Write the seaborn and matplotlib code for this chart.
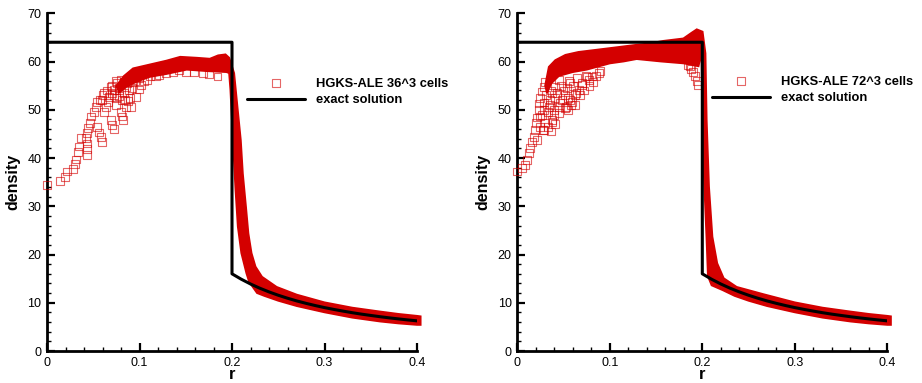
import matplotlib
matplotlib.use("Agg")
import matplotlib.pyplot as plt
import seaborn as sns
from matplotlib.ticker import MultipleLocator, FixedLocator, FixedFormatter

# ---------------- data ----------------
exact_r = [0.0, 0.2, 0.2, 0.21, 0.22, 0.23, 0.24, 0.25, 0.26, 0.27, 0.28, 0.29,
           0.30, 0.31, 0.32, 0.33, 0.34, 0.35, 0.36, 0.37, 0.38, 0.39, 0.40]
exact_rho = [64.0, 64.0, 16.0, 14.88, 13.89, 13.02, 12.25, 11.56, 10.94, 10.38, 9.88, 9.42,
             9.00, 8.62, 8.27, 7.94, 7.64, 7.37, 7.11, 6.87, 6.65, 6.44, 6.25]

# outline of the dense (solid) cloud of the 36^3 result
band36_r = [0.075, 0.083, 0.093, 0.111, 0.129, 0.144, 0.162, 0.176, 0.185, 0.193, 0.197,
            0.2024, 0.206, 0.2096, 0.2118, 0.2152, 0.2178, 0.2212, 0.2255, 0.2325, 0.2483, 0.27,
            0.30, 0.33, 0.36, 0.38, 0.40, 0.404,
            0.404, 0.40, 0.38, 0.36, 0.33, 0.30, 0.27, 0.25, 0.235, 0.227,
            0.2185, 0.2155, 0.2100, 0.2062, 0.2037, 0.2018, 0.2000, 0.1982, 0.1968,
            0.194, 0.173, 0.151, 0.129, 0.111, 0.097, 0.086, 0.078]
band36_rho = [55.0, 57.0, 58.6, 59.4, 60.2, 61.0, 60.8, 60.6, 61.3, 61.5, 60.8,
              57.6, 50.6, 43.7, 36.8, 29.9, 24.4, 20.3, 17.5, 15.4, 13.3, 11.7,
              10.1, 9.0, 8.2, 7.7, 7.3, 7.2,
              5.4, 5.4, 5.7, 6.1, 6.9, 8.0, 9.3, 10.4, 11.4, 12.0,
              14.3, 16.1, 20.3, 25.8, 33.4, 40.3, 47.2, 54.1, 57.6,
              57.8, 58.0, 58.3, 57.4, 56.8, 55.8, 54.8, 53.5]

# separate (hollow) squares of the 36^3 result
sq36_r = [0.0, 0.014, 0.019, 0.022, 0.0285, 0.030, 0.031, 0.0339, 0.0346, 0.0364,
          0.0429, 0.0429, 0.0429, 0.0418, 0.0429, 0.0447, 0.0465, 0.0472, 0.0508, 0.0526,
          0.0544, 0.0562, 0.058, 0.0591, 0.0544, 0.0616, 0.0634, 0.067, 0.0689, 0.0706,
          0.0724, 0.0724, 0.0743, 0.0797, 0.0814, 0.0814, 0.0832, 0.0886, 0.0905, 0.0922,
          0.0959, 0.1013, 0.1049, 0.1084, 0.1114, 0.0616, 0.0689, 0.076, 0.0797, 0.0598,
          0.0706, 0.0778, 0.0851, 0.0743, 0.0851, 0.0922, 0.0962, 0.0825, 0.0847,
          0.060, 0.065, 0.070, 0.072, 0.075, 0.078, 0.083, 0.087, 0.090, 0.095,
          0.100, 0.105, 0.057, 0.066, 0.088, 0.099,
          0.1178, 0.1214, 0.1286, 0.1358, 0.143, 0.1502, 0.1592, 0.1682, 0.1754, 0.1844]
sq36_rho = [34.4, 35.2, 36.1, 37.2, 37.7, 38.7, 39.7, 41.3, 42.4, 44.1,
            40.6, 41.8, 43.0, 44.1, 45.1, 46.2, 47.3, 48.6, 49.6, 50.6,
            51.7, 45.3, 44.3, 43.3, 46.5, 49.6, 50.6, 52.7, 47.9, 46.8,
            46.0, 54.1, 52.4, 49.6, 48.6, 52.0, 55.8, 54.1, 50.6, 55.8,
            57.2, 55.1, 57.6, 56.2, 56.9, 53.4, 54.8, 55.5, 56.2, 52.0,
            53.4, 54.1, 54.8, 51.0, 50.6, 54.5, 52.7, 47.9, 52.0,
            53.0, 54.0, 55.0, 53.0, 56.0, 52.8, 53.5, 55.5, 52.5, 56.0,
            56.5, 56.0, 52.0, 51.5, 51.8, 54.2,
            56.9, 57.2, 57.6, 57.9, 58.3, 57.9, 57.9, 57.6, 57.4, 56.9]

# outline of the dense cloud of the 72^3 result
band72_r = [0.030, 0.034, 0.041, 0.052, 0.066, 0.100, 0.125, 0.1435, 0.158, 0.1795, 0.1885, 0.194, 0.2004,
            0.2035, 0.2048, 0.2073, 0.2110, 0.2162, 0.2232, 0.2372, 0.266,
            0.30, 0.33, 0.36, 0.38, 0.40, 0.404,
            0.404, 0.40, 0.38, 0.36, 0.33, 0.30, 0.27, 0.25, 0.235, 0.222, 0.21,
            0.2060, 0.2044, 0.2014, 0.2000, 0.1990,
            0.196, 0.18, 0.155, 0.129, 0.115, 0.100, 0.075, 0.060, 0.045, 0.037, 0.032]
band72_rho = [55.0, 58.9, 60.3, 61.4, 62.0, 62.8, 63.4, 63.8, 64.3, 64.8, 66.0, 66.7, 66.2,
              61.7, 47.9, 34.1, 23.7, 18.2, 15.1, 13.3, 11.8,
              10.1, 9.0, 8.2, 7.7, 7.3, 7.2,
              5.4, 5.4, 5.7, 6.1, 6.9, 8.0, 9.3, 10.4, 11.4, 12.6, 13.6,
              15.5, 23.7, 37.5, 51.3, 61.7,
              59.0, 59.6, 60.0, 60.5, 60.0, 59.6, 58.3, 57.8, 57.0, 55.5, 53.5]

# separate (hollow) squares of the 72^3 result
sq72_r = [0.0, 0.005, 0.0087, 0.0105, 0.0123, 0.014, 0.0159, 0.0177, 0.0195, 0.0213,
          0.0202, 0.0213, 0.0231, 0.0231, 0.0249, 0.0267, 0.0285, 0.0303, 0.0249, 0.0285,
          0.0303, 0.0285, 0.034, 0.0375, 0.0393, 0.0357, 0.0375, 0.0411, 0.0448, 0.0448,
          0.0483, 0.0519, 0.0519, 0.0537, 0.0573, 0.0591, 0.0627, 0.0664, 0.070, 0.0772,
          0.0808, 0.088, 0.028, 0.038, 0.045, 0.0527, 0.057, 0.064, 0.0696, 0.075,
          0.025, 0.027, 0.029, 0.031, 0.033, 0.035, 0.036, 0.040, 0.041, 0.043,
          0.046, 0.047, 0.050, 0.055, 0.056, 0.060, 0.062, 0.065, 0.068, 0.072,
          0.074, 0.078, 0.082, 0.085, 0.090, 0.033, 0.036, 0.041, 0.055, 0.058,
          0.185, 0.187, 0.188, 0.190, 0.192, 0.194, 0.195]
sq72_rho = [37.2, 37.9, 38.6, 39.6, 41.0, 42.0, 43.4, 44.4, 45.8, 43.7,
            47.2, 48.4, 50.0, 51.3, 52.4, 53.8, 54.8, 55.8, 48.6, 50.0,
            47.2, 45.8, 50.6, 47.9, 48.9, 52.0, 53.4, 54.8, 56.2, 50.6,
            52.0, 53.1, 50.3, 54.5, 55.5, 51.7, 53.1, 54.1, 55.1, 56.2,
            56.9, 57.6, 45.8, 47.5, 49.3, 50.5, 52.0, 53.4, 55.5, 56.9,
            46.5, 49.0, 51.5, 53.0, 49.5, 51.0, 54.0, 50.0, 52.5, 53.5,
            51.5, 55.0, 54.0, 52.5, 56.0, 55.0, 51.0, 56.5, 53.0, 54.0,
            57.0, 55.0, 55.8, 57.0, 58.0, 46.5, 45.5, 47.0, 50.0, 51.0,
            59.3, 59.0, 58.5, 57.8, 57.0, 56.0, 55.1]

x_ticks = [0.0, 0.1, 0.2, 0.3, 0.4]
x_tick_labels = ["0", "0.1", "0.2", "0.3", "0.4"]
y_ticks = [0, 10, 20, 30, 40, 50, 60, 70]
y_tick_labels = ["0", "10", "20", "30", "40", "50", "60", "70"]

labels = ["HGKS-ALE 36^3 cells", "HGKS-ALE 72^3 cells"]
exact_label = "exact solution"

# ---------------- style ----------------
sns.set_theme(style="white")
plt.rcParams["font.family"] = ["Liberation Sans", "DejaVu Sans"]
for k in ["text.color", "axes.labelcolor", "xtick.color", "ytick.color", "axes.edgecolor"]:
    plt.rcParams[k] = "black"

RED = "#d40000"

fig = plt.figure(figsize=(9.22, 3.83), dpi=100)
W, H = 922.0, 383.0
axL = fig.add_axes([47 / W, 32 / H, 370 / W, 337.7 / H])
axR = fig.add_axes([517.3 / W, 32 / H, 370 / W, 337.7 / H])


def draw(ax, band_r, band_rho, sq_r, sq_rho, label, leg_xy):
    patches = ax.fill(band_r, band_rho, color=RED, ec=RED, lw=1.2, zorder=2)
    for p in patches:
        p.set_clip_on(False)
    sns.scatterplot(x=sq_r, y=sq_rho, ax=ax, marker="s", s=32, facecolor="none",
                    edgecolor=RED, linewidth=0.8, alpha=0.6, label=label, zorder=3,
                    clip_on=False)
    sns.lineplot(x=exact_r, y=exact_rho, ax=ax, sort=False, estimator=None,
                 color="black", lw=2.2, label=exact_label, zorder=4)

    ax.set_xlim(0, 0.4)
    ax.set_ylim(0, 70)
    ax.xaxis.set_major_locator(FixedLocator(x_ticks))
    ax.xaxis.set_major_formatter(FixedFormatter(x_tick_labels))
    ax.yaxis.set_major_locator(FixedLocator(y_ticks))
    ax.yaxis.set_major_formatter(FixedFormatter(y_tick_labels))
    ax.xaxis.set_minor_locator(MultipleLocator(0.02))
    ax.yaxis.set_minor_locator(MultipleLocator(2))
    ax.tick_params(which="major", direction="in", length=6, width=1.6, labelsize=9, pad=4,
                   left=True, bottom=True)
    ax.tick_params(which="minor", direction="in", length=3, width=1.0, left=True, bottom=True)
    for s in ["top", "right"]:
        ax.spines[s].set_visible(False)
    for s in ["left", "bottom"]:
        ax.spines[s].set_linewidth(2.0)
        ax.spines[s].set_color("black")
    ax.set_xlabel("r", fontsize=12, fontweight="bold")
    ax.set_ylabel("density", fontsize=11.5, fontweight="bold")
    ax.xaxis.set_label_coords(0.5, -0.047)
    ax.yaxis.set_label_coords(-0.073, 0.5)

    ax.legend(loc="upper left", bbox_to_anchor=leg_xy, bbox_transform=fig.transFigure,
              frameon=False, prop=dict(weight="bold", size=9.3), handlelength=4.5,
              handletextpad=0.85, borderpad=0, borderaxespad=0, labelspacing=0.35)


draw(axL, band36_r, band36_rho, sq36_r, sq36_rho, labels[0], (247 / W, 1 - 77.5 / H))
draw(axR, band72_r, band72_rho, sq72_r, sq72_rho, labels[1], (711.7 / W, 1 - 75.5 / H))

fig.savefig("out.png", dpi=100)
